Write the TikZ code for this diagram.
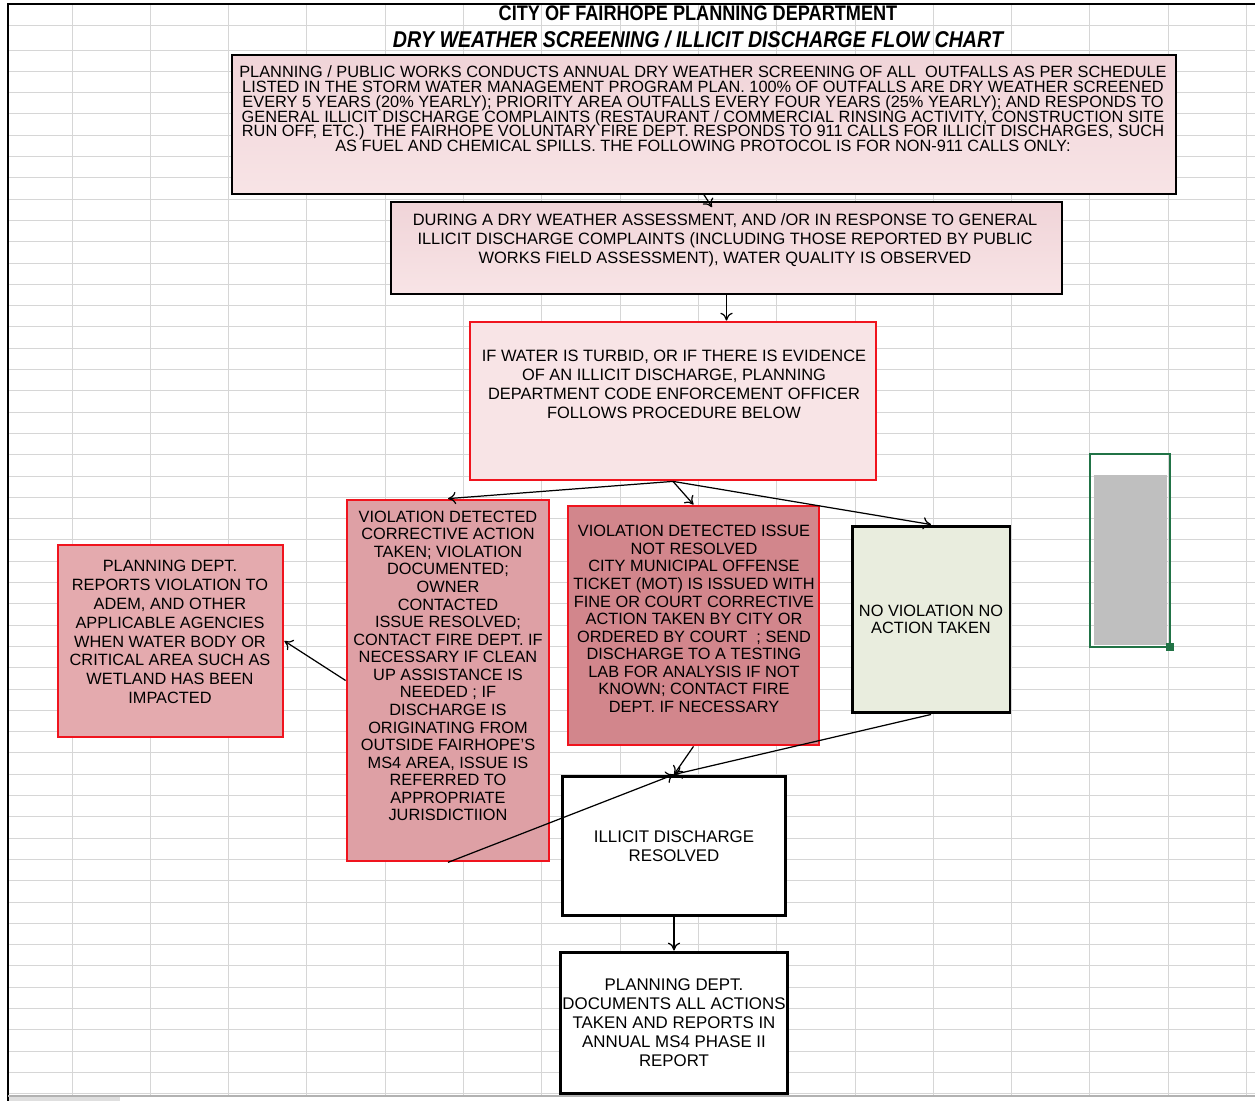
\documentclass[tikz,border=0pt]{standalone}
\usepackage{fontspec}
\usetikzlibrary{arrows.meta}
\setmainfont{Liberation Sans}
\newfontfamily\narrowfont[FakeStretch=0.86]{Liberation Sans}
\newcommand\tightlines{\lineskiplimit=-20pt\relax}

\definecolor{gridgray}{RGB}{214,214,214}
\definecolor{pinklight}{RGB}{240,212,216}
\definecolor{pinkpale}{RGB}{248,228,230}
\definecolor{pinkmid}{RGB}{222,160,165}
\definecolor{pinkdeep}{RGB}{210,134,140}
\definecolor{pinkside}{RGB}{228,170,174}
\definecolor{sagepale}{RGB}{233,237,222}
\definecolor{selgreen}{RGB}{33,115,70}
\definecolor{boxred}{RGB}{240,20,30}

\begin{document}
\begin{tikzpicture}[x=0.02cm,y=-0.02cm, >={To[length=4.5pt,width=7pt]}]
	\tikzstyle{every node}=[align=center, inner sep=1pt]
	\tikzstyle{gridline}=[gridgray, line width=0.5pt]
	\tikzstyle{thinbox}=[draw=black, line width=0.9pt, top color=pinklight, bottom color=pinkpale]
	\tikzstyle{redbox}=[draw=boxred, line width=1.6pt]
	\tikzstyle{heavybox}=[draw=black, line width=1.7pt]
	\tikzstyle{boxtext}=[font=\fontsize{9.3}{10}\selectfont]
	\tikzstyle{widetext}=[font=\fontsize{9.3}{8.4}\selectfont\tightlines]
	\tikzstyle{flow}=[->, line width=0.7pt]

	\useasboundingbox (0,0) rectangle (1255,1101);
	\fill[white] (0,0) rectangle (1255,1101);

	% sheet grid
	\foreach \gx in {0,...,15}
		\draw[gridline] (72+78.3*\gx,4) -- (72+78.3*\gx,1095);
	\draw[gridline] (8,25) -- (1255,25);
	\foreach \gy in {0,...,49}
		\draw[gridline] (8,50+21.3*\gy) -- (1255,50+21.3*\gy);
	\draw[black, line width=1.2pt] (8,1101) -- (8,4) -- (1255,4);
	\draw[gray!60, line width=0.6pt] (8,1096) -- (1255,1096);
	\fill[gray!25] (9,1097) rectangle (120,1101);

	% titles
	\node[font=\narrowfont\bfseries\fontsize{12}{12}\selectfont] (title) at (698,13) {CITY OF FAIRHOPE PLANNING DEPARTMENT};
	\node[font=\narrowfont\bfseries\itshape\fontsize{13}{13}\selectfont] (subtitle) at (698,39) {DRY WEATHER SCREENING / ILLICIT DISCHARGE FLOW CHART};

	% boxes
	\node[thinbox, minimum width=18.88cm, minimum height=2.78cm] (plan) at (704,124.5) {};
	\node[widetext] (plantext) at (703,109) {PLANNING / PUBLIC WORKS CONDUCTS ANNUAL DRY WEATHER SCREENING OF ALL\ \ OUTFALLS AS PER SCHEDULE\\
		LISTED IN THE STORM WATER MANAGEMENT PROGRAM PLAN. 100\% OF OUTFALLS ARE DRY WEATHER SCREENED\\
		EVERY 5 YEARS (20\% YEARLY); PRIORITY AREA OUTFALLS EVERY FOUR YEARS (25\% YEARLY); AND RESPONDS TO\\
		GENERAL ILLICIT DISCHARGE COMPLAINTS (RESTAURANT / COMMERCIAL RINSING ACTIVITY, CONSTRUCTION SITE\\
		RUN OFF, ETC.)\ \ THE FAIRHOPE VOLUNTARY FIRE DEPT. RESPONDS TO 911 CALLS FOR ILLICIT DISCHARGES, SUCH\\
		AS FUEL AND CHEMICAL SPILLS. THE FOLLOWING PROTOCOL IS FOR NON-911 CALLS ONLY:};

	\node[thinbox, minimum width=13.42cm, minimum height=1.84cm] (assess) at (726.5,248) {};
	\node[boxtext, font=\fontsize{9.35}{10.8}\selectfont] (assesstext) at (725,240) {DURING A DRY WEATHER ASSESSMENT, AND /OR IN RESPONSE TO GENERAL\\
		ILLICIT DISCHARGE COMPLAINTS (INCLUDING THOSE REPORTED BY PUBLIC\\
		WORKS FIELD ASSESSMENT), WATER QUALITY IS OBSERVED};

	\node[redbox, fill=pinkpale, minimum width=8.12cm, minimum height=3.16cm] (turbid) at (673,401) {};
	\node[boxtext, font=\fontsize{9.35}{10.8}\selectfont] (turbidtext) at (674,384) {IF WATER IS TURBID, OR IF THERE IS EVIDENCE\\
		OF AN ILLICIT DISCHARGE, PLANNING\\
		DEPARTMENT CODE ENFORCEMENT OFFICER\\
		FOLLOWS PROCEDURE BELOW};

	\node[redbox, fill=pinkmid, minimum width=4.04cm, minimum height=7.22cm] (fixed) at (448,680.5) {};
	\node[boxtext] (fixedtext) at (448,666) {VIOLATION DETECTED\\ CORRECTIVE ACTION\\ TAKEN; VIOLATION\\ DOCUMENTED;\\ OWNER\\ CONTACTED\\
		ISSUE RESOLVED;\\ CONTACT FIRE DEPT. IF\\ NECESSARY IF CLEAN\\ UP ASSISTANCE IS\\ NEEDED ; IF\\ DISCHARGE IS\\
		ORIGINATING FROM\\ OUTSIDE FAIRHOPE'S\\ MS4 AREA, ISSUE IS\\ REFERRED TO\\ APPROPRIATE\\ JURISDICTIION};

	\node[redbox, fill=pinkdeep, minimum width=5.02cm, minimum height=4.78cm] (ticket) at (693.5,625.5) {};
	\node[boxtext] (tickettext) at (694,619) {VIOLATION DETECTED ISSUE\\ NOT RESOLVED\\ CITY MUNICIPAL OFFENSE\\
		TICKET (MOT) IS ISSUED WITH\\ FINE OR COURT CORRECTIVE\\ ACTION TAKEN BY CITY OR\\
		ORDERED BY COURT\ \ ; SEND\\ DISCHARGE TO A TESTING\\ LAB FOR ANALYSIS IF NOT\\ KNOWN; CONTACT FIRE\\ DEPT. IF NECESSARY};

	\node[heavybox, fill=sagepale, minimum width=3.16cm, minimum height=3.74cm, boxtext] (none) at (931,619.5) {NO VIOLATION NO\\ ACTION TAKEN};

	\node[redbox, fill=pinkside, minimum width=4.5cm, minimum height=3.84cm] (adem) at (170.5,641) {};
	\node[boxtext, font=\fontsize{9.3}{10.7}\selectfont] (ademtext) at (170,632) {PLANNING DEPT.\\ REPORTS VIOLATION TO\\ ADEM, AND OTHER\\
		APPLICABLE AGENCIES\\ WHEN WATER BODY OR\\ CRITICAL AREA SUCH AS\\ WETLAND HAS BEEN\\ IMPACTED};

	\node[heavybox, fill=white, minimum width=4.48cm, minimum height=2.8cm, boxtext, font=\fontsize{9.6}{11}\selectfont] (resolved) at (674,846) {ILLICIT DISCHARGE\\ RESOLVED};

	\node[heavybox, fill=white, minimum width=4.48cm, minimum height=2.84cm, boxtext, font=\fontsize{9.6}{10.8}\selectfont] (report) at (674,1023) {PLANNING DEPT.\\ DOCUMENTS ALL ACTIONS\\ TAKEN AND REPORTS IN\\ ANNUAL MS4 PHASE II\\ REPORT};

	% spreadsheet selection
	\fill[gray!50] (1094,475) rectangle (1167,645);
	\draw[selgreen, line width=1.1pt] (1090,454) rectangle (1170,647);
	\fill[selgreen] (1166,643) rectangle (1174,651);

	% connectors
	\draw[flow] (plan.south) to ([xshift=-0.29cm,yshift=-0.12cm]assess.north);
	\draw[flow] (assess.south) to (assess.south |- turbid.north);
	\draw[flow] (turbid.south) to (fixed.north);
	\draw[flow] (turbid.south) to (ticket.north);
	\draw[flow] (turbid.south) to (none.north);
	\draw[flow] (fixed.west) to (adem.east);
	\draw[flow] (ticket.south) to (resolved.north);
	\draw[flow] (none.south) to (resolved.north);
	\draw[flow] (fixed.south) to (resolved.north);
	\draw[flow] (resolved.south) to (report.north);
\end{tikzpicture}
\end{document}
